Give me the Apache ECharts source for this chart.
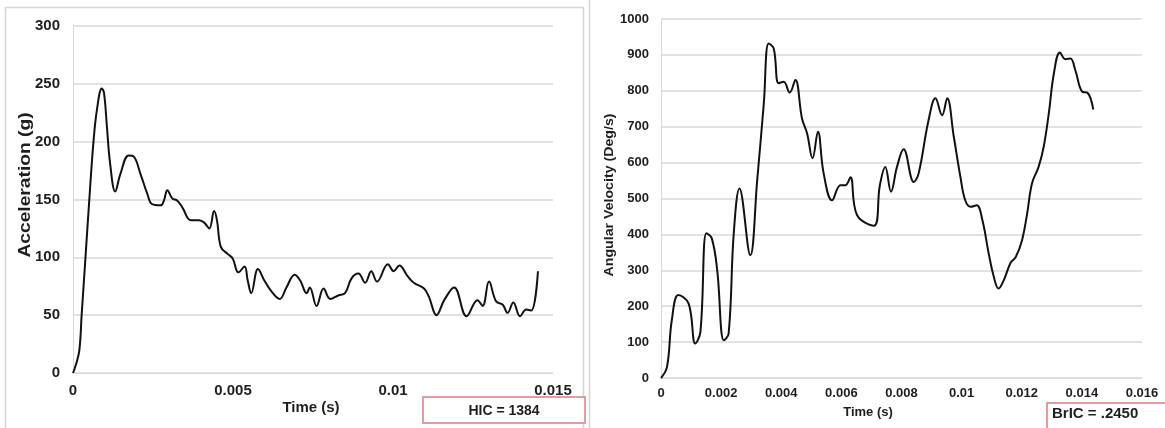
<!DOCTYPE html>
<html>
<head>
<meta charset="utf-8">
<script src="https://cdn.jsdelivr.net/npm/echarts@6/dist/echarts.min.js"></script>
<style>
html,body{margin:0;padding:0;background:#fff;}
#c{width:1165px;height:428px;}
</style>
</head>
<body>
<div id="c"></div>
<script>
// Left chart: Acceleration (g) vs Time (s)
const accTime = [0,0.0001,0.0002,0.00027,0.00039,0.00051,0.00064,0.00075,0.0009,0.00097,0.00106,0.00116,0.00132,0.00148,0.00174,0.0019,0.00211,0.00232,0.00247,0.00274,0.00284,0.00295,0.0031,0.00326,0.00342,0.00368,0.00394,0.0041,0.00426,0.00441,0.0045,0.00462,0.00483,0.00499,0.00517,0.00536,0.00546,0.00557,0.00578,0.00598,0.00619,0.00646,0.00667,0.00693,0.0071,0.0073,0.0074,0.00761,0.00783,0.00804,0.00829,0.0085,0.00871,0.00892,0.00913,0.00932,0.0095,0.00984,0.01002,0.0102,0.01045,0.01065,0.01097,0.01112,0.01136,0.0116,0.01191,0.0123,0.01264,0.0128,0.013,0.01322,0.01343,0.01358,0.01376,0.01397,0.01416,0.01432,0.01453];
const accValues = [0,8,20,50,100,150,200,228,246,242,213,181,157,172,188,187,172,155,146,145,149,158,151,149,143,132,132,130,125,140,132,109,103,99,87,92,80,69,90,80,71,64,74,85,80,69,74,58,73,64,67,69,82,86,78,88,79,94,88,93,84,78,73,66,50,63,74,49,63,58,79,62,59,52,61,49,55,54,88];

// Right chart: Angular Velocity (Deg/s) vs Time (s)
const velTime = [0,0.0002,0.00036,0.00058,0.00092,0.00114,0.00131,0.00151,0.00169,0.00187,0.00209,0.00225,0.00242,0.00261,0.00297,0.0032,0.00342,0.00358,0.00375,0.00391,0.00408,0.00428,0.00447,0.00469,0.00486,0.00504,0.00522,0.00541,0.00569,0.00597,0.00613,0.0063,0.00652,0.00708,0.00728,0.00746,0.00765,0.00785,0.00807,0.00841,0.00857,0.0089,0.00913,0.00935,0.00952,0.00974,0.00996,0.01012,0.0103,0.0105,0.01069,0.0109,0.01107,0.01123,0.0114,0.01163,0.0118,0.01201,0.01218,0.01234,0.01256,0.01273,0.0129,0.01307,0.01327,0.01345,0.01362,0.01378,0.01402,0.01418,0.01438];
const velValues = [0,31,161,231,207,96,128,403,389,300,105,124,403,528,342,551,765,932,918,821,825,795,830,723,681,612,686,570,495,537,537,559,454,424,537,588,519,588,637,546,570,718,779,732,779,672,560,495,477,481,440,347,282,249,272,321,337,384,458,542,588,644,737,849,907,888,890,858,797,795,748];

const leftXTicks = ['0','0.005','0.01','0.015'];
const rightXTicks = ['0','0.002','0.004','0.006','0.008','0.01','0.012','0.014','0.016'];
const leftYTicks = ['0','50','100','150','200','250','300'];
const rightYTicks = ['0','100','200','300','400','500','600','700','800','900','1000'];

const accData = accTime.map((t,i)=>[t,accValues[i]]);
const velData = velTime.map((t,i)=>[t,velValues[i]]);

const FONT = '"Liberation Sans", Arial, sans-serif';
const gridColor = '#d9d9d9';
const labelColor = '#1e1e1e';

const chart = echarts.init(document.getElementById('c'));
chart.setOption({
  backgroundColor:'#fff',
  animation:false,
  grid:[
    {left:73, top:26, width:480, height:347},
    {left:661, top:19, width:481, height:359}
  ],
  xAxis:[
    {gridIndex:0,type:'value',min:0,max:0.015,interval:0.005,
     axisLine:{show:true,lineStyle:{color:gridColor}},axisTick:{show:false},splitLine:{show:false},
     axisLabel:{margin:10,color:labelColor,fontWeight:'bold',fontSize:15,fontFamily:FONT,
       formatter:(v)=>leftXTicks[Math.round(v/0.005)]}},
    {gridIndex:1,type:'value',min:0,max:0.016,interval:0.002,
     axisLine:{show:true,lineStyle:{color:gridColor}},axisTick:{show:false},splitLine:{show:false},
     axisLabel:{margin:9,color:labelColor,fontWeight:'bold',fontSize:13,fontFamily:FONT,
       formatter:(v)=>rightXTicks[Math.round(v/0.002)]}}
  ],
  yAxis:[
    {gridIndex:0,type:'value',min:0,max:300,interval:50,
     axisLine:{show:true,lineStyle:{color:gridColor}},axisTick:{show:false},
     splitLine:{show:true,lineStyle:{color:gridColor,width:1.5}},
     axisLabel:{margin:13,color:labelColor,fontWeight:'bold',fontSize:15,fontFamily:FONT,
       formatter:(v)=>leftYTicks[Math.round(v/50)]}},
    {gridIndex:1,type:'value',min:0,max:1000,interval:100,
     axisLine:{show:true,lineStyle:{color:gridColor}},axisTick:{show:false},
     splitLine:{show:true,lineStyle:{color:gridColor,width:1.5}},
     axisLabel:{margin:12,color:labelColor,fontWeight:'bold',fontSize:13,fontFamily:FONT,
       formatter:(v)=>rightYTicks[Math.round(v/100)]}}
  ],
  series:[
    {type:'line',xAxisIndex:0,yAxisIndex:0,data:accData,smooth:0.4,showSymbol:false,
     lineStyle:{color:'#111',width:2}},
    {type:'line',xAxisIndex:1,yAxisIndex:1,data:velData,smooth:0.4,showSymbol:false,
     lineStyle:{color:'#111',width:2}}
  ],
  graphic:[
    // panel borders
    {type:'polyline',shape:{points:[[5.5,440],[5.5,7.5],[583.5,7.5],[583.5,440]]},style:{stroke:'#d4d4d4',lineWidth:1.5,fill:null},silent:true},
    {type:'line',shape:{x1:589.5,y1:0,x2:589.5,y2:428},style:{stroke:'#d4d4d4',lineWidth:1.5},silent:true},
    // axis titles
    {type:'text',x:26,y:185,rotation:Math.PI/2,scaleX:1.2,
     style:{text:'Acceleration (g)',textAlign:'center',textVerticalAlign:'middle',align:'center',verticalAlign:'middle',
       font:'bold 16px '+FONT,fill:'#1e1e1e'}},
    {type:'text',x:609,y:195,rotation:Math.PI/2,scaleX:1.09,
     style:{text:'Angular Velocity (Deg/s)',textAlign:'center',textVerticalAlign:'middle',align:'center',verticalAlign:'middle',
       font:'bold 13px '+FONT,fill:'#1e1e1e'}},
    {type:'text',x:311,y:408,
     style:{text:'Time (s)',textAlign:'center',textVerticalAlign:'middle',align:'center',verticalAlign:'middle',
       font:'bold 15px '+FONT,fill:'#1e1e1e'}},
    {type:'text',x:868,y:412,
     style:{text:'Time (s)',textAlign:'center',textVerticalAlign:'middle',align:'center',verticalAlign:'middle',
       font:'bold 13px '+FONT,fill:'#1e1e1e'}},
    // HIC box
    {type:'rect',shape:{x:423,y:397,width:162,height:26},style:{stroke:'#e07b7b',lineWidth:1.5,fill:'#fff'},silent:true},
    {type:'text',x:504,y:411,
     style:{text:'HIC = 1384',textAlign:'center',textVerticalAlign:'middle',align:'center',verticalAlign:'middle',
       font:'bold 14px '+FONT,fill:'#1e1e1e'}},
    // BrIC box
    {type:'rect',shape:{x:1047,y:403,width:140,height:32},style:{stroke:'#e07b7b',lineWidth:1.5,fill:'#fff'},silent:true},
    {type:'text',x:1052,y:414,
     style:{text:'BrIC = .2450',textAlign:'left',textVerticalAlign:'middle',align:'left',verticalAlign:'middle',
       font:'bold 15px '+FONT,fill:'#1e1e1e'}}
  ]
});
</script>
</body>
</html>
